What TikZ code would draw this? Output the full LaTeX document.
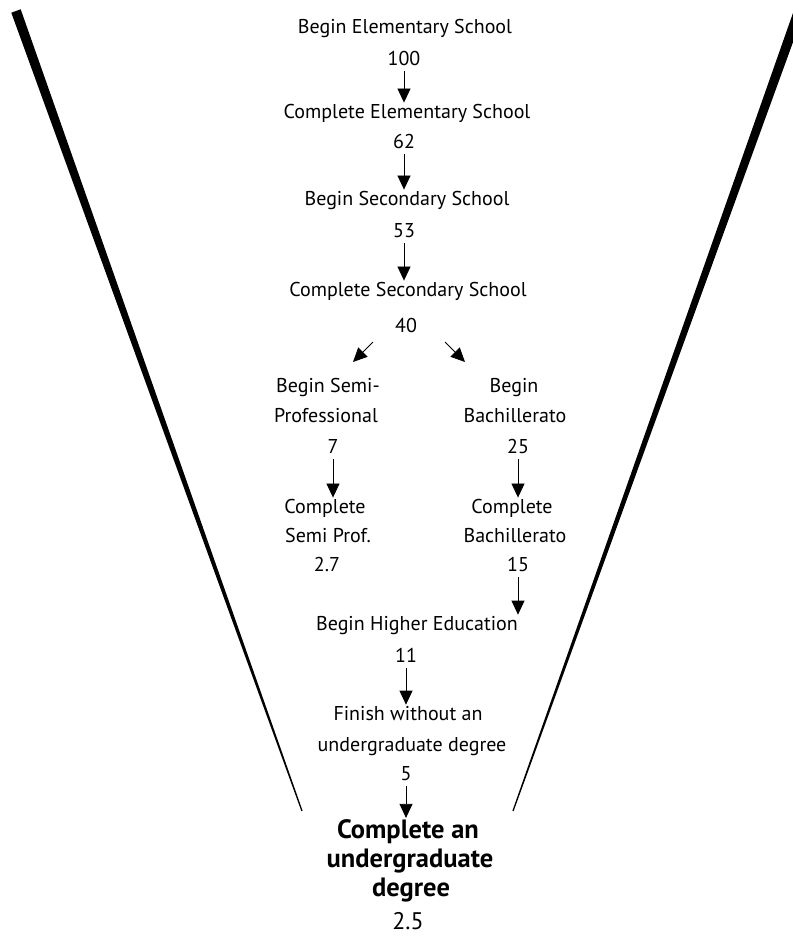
\documentclass[tikz,border=0pt]{standalone}
\usepackage{fontspec}
\setmainfont{PT Sans}
\usetikzlibrary{arrows.meta}
\begin{document}
\begin{tikzpicture}[x=1pt,y=-1pt,
  txt/.style={inner sep=0pt, anchor=base, font=\fontsize{20}{24}\selectfont},
  btxt/.style={inner sep=0pt, anchor=base, font=\fontsize{26.5}{30}\selectfont\bfseries},
  flow/.style={-{Triangle[length=14pt,width=13pt]}, line width=0.8pt, shorten <=6pt, shorten >=1pt},
  diag/.style={-{Triangle[length=14pt,width=13pt]}, line width=0.8pt},
  funnel/.style={fill=black, draw=none}
]
\useasboundingbox (0,0) rectangle (793,938);
\clip (0,0) rectangle (793,938);
\fill[white] (0,0) rectangle (793,938);

% funnel walls
\path[funnel] (11.3,12.7) -- (20.7,9.3) -- (302.6,810.8) -- (301.4,811.2) -- cycle;
\path[funnel] (803.7,12.7) -- (794.3,9.3) -- (512.4,810.8) -- (513.6,811.2) -- cycle;

% main column
\node[txt] (be1) at (405,33) {Begin Elementary School};
\node[txt] (n100) at (404,65) {100};
\node[txt] (ce1) at (407,118) {Complete Elementary School};
\node[txt] (n62) at (404,148) {62};
\node[txt] (bs1) at (407,205) {Begin Secondary School};
\node[txt] (n53) at (404,237) {53};
\node[txt] (cs1) at (408,296) {Complete Secondary School};
\node[txt] (n40) at (406,332) {40};

% branches
\node[txt] (bsp1) at (328,392) {Begin Semi-};
\node[txt] (bsp2) at (326,422) {Professional};
\node[txt] (n7) at (333,453) {7};
\node[txt] (csp1) at (325,513) {Complete};
\node[txt] (csp2) at (328,542) {Semi Prof.};
\node[txt] (n2p7) at (327,571) {2.7};

\node[txt] (bb1) at (514,392) {Begin};
\node[txt] (bb2) at (515,422) {Bachillerato};
\node[txt] (n25) at (518,453) {25};
\node[txt] (cb1) at (512,513) {Complete};
\node[txt] (cb2) at (515,542) {Bachillerato};
\node[txt] (n15) at (518,571) {15};

% lower column
\node[txt] (bhe) at (417,630) {Begin Higher Education};
\node[txt] (n11) at (406,662) {11};
\node[txt] (fw1) at (408,720) {Finish without an};
\node[txt] (fw2) at (412,751) {undergraduate degree};
\node[txt] (n5) at (406,780) {5};
\node[btxt] (cu1) at (408,838) {Complete an};
\node[btxt] (cu2) at (410,867) {undergraduate};
\node[btxt] (cu3) at (411,896) {degree};
\node[txt, font=\fontsize{24}{28}\selectfont] (n2p5) at (408,929) {2.5};

% connectors
\draw[flow] (n100.south) -- (n100.south |- ce1.north);
\draw[flow] (n62.south) -- (n62.south |- bs1.north);
\draw[flow] (n53.south) -- (n53.south |- cs1.north);

\coordinate (dl0) at (373,342);
\coordinate (dl1) at (353,362);
\coordinate (dr0) at (445,342);
\coordinate (dr1) at (465,362);
\draw[diag] (dl0) -- (dl1);
\draw[diag] (dr0) -- (dr1);

\draw[flow] (n7.south) -- (n7.south |- csp1.north);
\draw[flow] (n25.south) -- (n25.south |- cb1.north);
\draw[flow] (n15.south) -- (n15.south |- bhe.north);
\draw[flow] (n11.south) -- (n11.south |- fw1.north);
\draw[flow] (n5.south) -- (n5.south |- cu1.north);
\end{tikzpicture}
\end{document}
